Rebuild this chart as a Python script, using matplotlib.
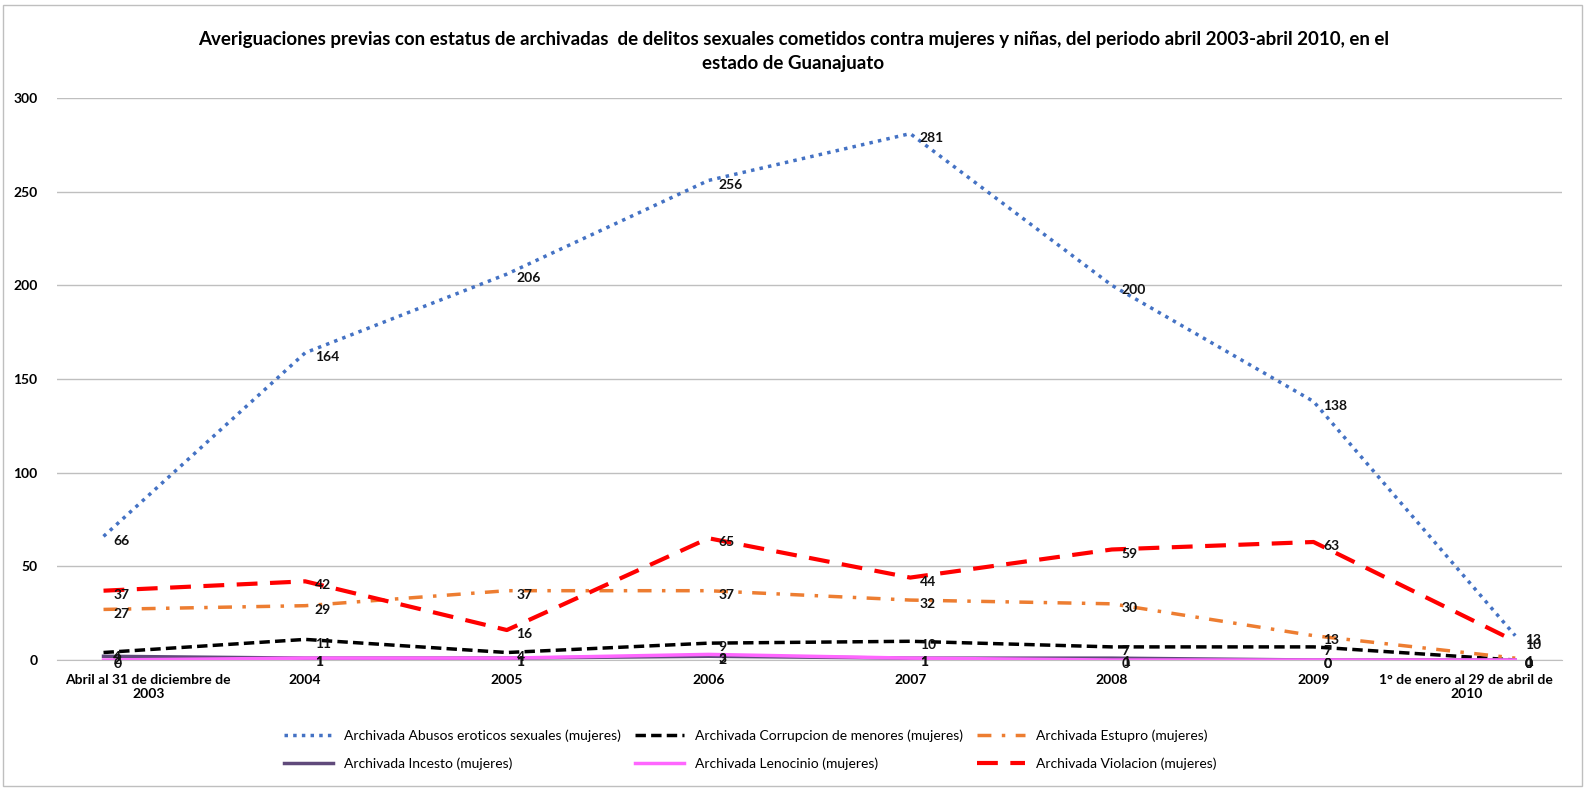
import numpy as np
import matplotlib
matplotlib.use("Agg")
import matplotlib.pyplot as plt
import matplotlib.transforms as mtransforms
from matplotlib.patches import Rectangle

categories = ["Abril al 31 de diciembre de\n2003", "2004", "2005", "2006", "2007", "2008", "2009",
              "1° de enero al 29 de abril de\n2010"]
abusos = [66, 164, 206, 256, 281, 200, 138, 13]
corrupcion = [4, 11, 4, 9, 10, 7, 7, 0]
estupro = [27, 29, 37, 37, 32, 30, 13, 1]
incesto = [2, 1, 1, 2, 1, 1, 0, 0]
lenocinio = [0, 1, 1, 3, 1, 0, 0, 0]
violacion = [37, 42, 16, 65, 44, 59, 63, 10]

names = ["Archivada Abusos eroticos sexuales (mujeres)",
         "Archivada Corrupcion de menores (mujeres)",
         "Archivada Estupro (mujeres)",
         "Archivada Incesto (mujeres)",
         "Archivada Lenocinio (mujeres)",
         "Archivada Violacion (mujeres)"]

plt.rcParams['font.family'] = ['Lato', 'DejaVu Sans']

fig = plt.figure(figsize=(15.87, 7.91), dpi=100)
ax = fig.add_axes([0.036, 0.1656, 0.948, 0.7105])
x = np.arange(len(categories))

series = [abusos, corrupcion, estupro, incesto, lenocinio, violacion]
styles = [
    dict(color="#4472C4", linestyle=(0, (1, 1.5)), linewidth=2.5),
    dict(color="black", linestyle=(0, (3, 1.5)), linewidth=2.5),
    dict(color="#ED7D31", linestyle=(0, (4, 3, 1, 3)), linewidth=2.5),
    dict(color="#604A7B", linestyle="-", linewidth=2.5),
    dict(color="#FF66FF", linestyle="-", linewidth=2.5),
    dict(color="#FF0000", linestyle=(0, (5, 3)), linewidth=3),
]
lines = []
for s, st, nm in zip(series, styles, names):
    l, = ax.plot(x, s, label=nm, **st)
    lines.append(l)
    for xi, v in zip(x, s):
        ax.annotate(str(v), (xi, v), xytext=(7, -3), textcoords="offset points",
                    fontsize=10, fontweight="bold", color="#111111", va="center", ha="left")

ax.set_xlim(-0.23, 7.23)
ax.set_ylim(0, 300)
ax.set_yticks(range(0, 301, 50))
ax.set_xticks(x)
ax.set_xticklabels(categories, fontsize=10, fontweight="bold")
for t in ax.get_yticklabels():
    t.set_fontsize(10)
    t.set_fontweight("bold")
ax.tick_params(axis="x", length=0, pad=10)
ax.tick_params(axis="y", length=0, pad=14)
ax.grid(axis="y", color="#BFBFBF", linewidth=1)
ax.set_axisbelow(True)
for sp in ["top", "right", "left"]:
    ax.spines[sp].set_visible(False)
ax.spines["bottom"].set_color("#BFBFBF")

# keep the long end labels inside the plot, as the original does
xt = ax.get_xticklabels()
xt[0].set_ha("left")
xt[0].set_multialignment("center")
xt[0].set_transform(xt[0].get_transform() + mtransforms.ScaledTranslation(-0.38, 0, fig.dpi_scale_trans))
xt[-1].set_ha("right")
xt[-1].set_multialignment("center")
xt[-1].set_transform(xt[-1].get_transform() + mtransforms.ScaledTranslation(0.38, 0, fig.dpi_scale_trans))

fig.text(0.5, 0.935, "Averiguaciones previas con estatus de archivadas  de delitos sexuales cometidos contra mujeres y niñas, del periodo abril 2003-abril 2010, en el\nestado de Guanajuato",
         ha="center", va="center", fontsize=13.5, fontweight="bold", linespacing=1.5)

# row-wise order for a 3-column legend
order = [0, 3, 1, 4, 2, 5]
fig.legend(handles=[lines[i] for i in order], loc="center", bbox_to_anchor=(0.473, 0.052), ncol=3,
           frameon=False, fontsize=10, handlelength=3.5, columnspacing=1.0, labelspacing=1.1)

fig.patches.append(Rectangle((0.002, 0.006), 0.995, 0.988, transform=fig.transFigure,
                             fill=False, edgecolor="#BFBFBF", linewidth=1))

fig.savefig("out.png", dpi=100)
